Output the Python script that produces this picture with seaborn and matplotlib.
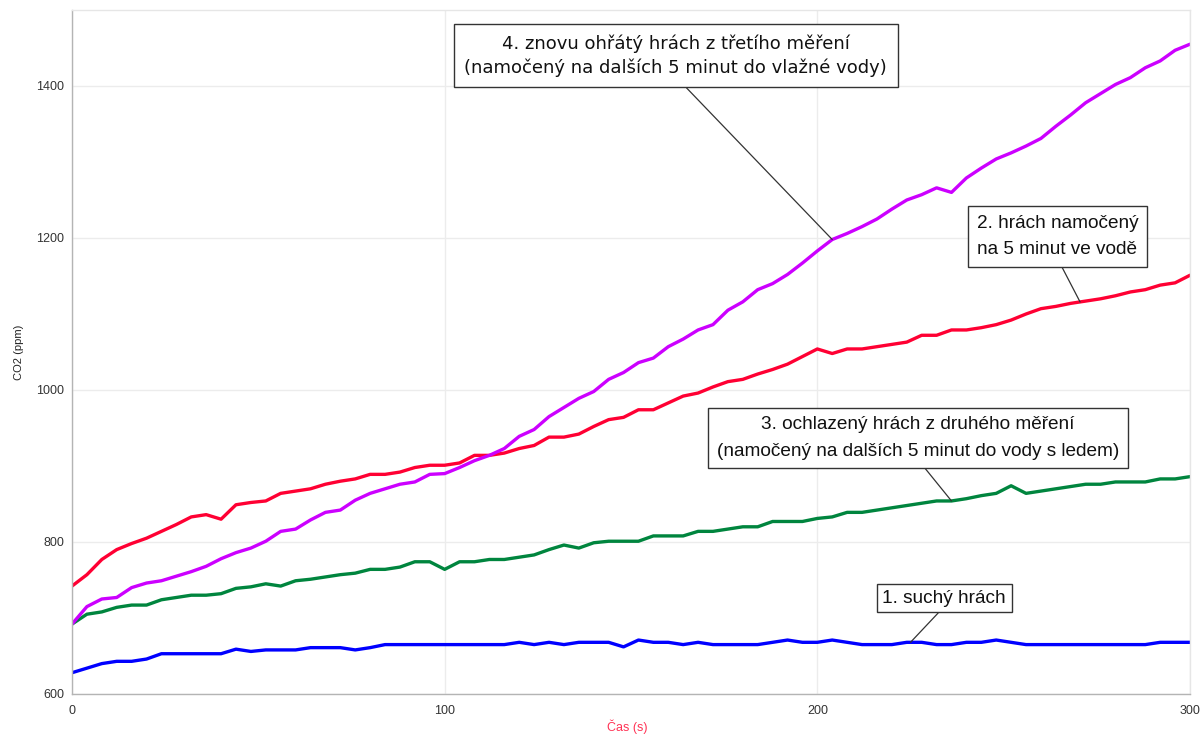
import numpy as np
import pandas as pd
import seaborn as sns
import matplotlib.pyplot as plt
from matplotlib.ticker import MultipleLocator

# ---------------- data ----------------
time_s = [0, 4, 8, 12, 16, 20, 24, 28, 32, 36, 40, 44, 48, 52, 56, 60, 64, 68, 72, 76,
          80, 84, 88, 92, 96, 100, 104, 108, 112, 116, 120, 124, 128, 132, 136, 140,
          144, 148, 152, 156, 160, 164, 168, 172, 176, 180, 184, 188, 192, 196, 200,
          204, 208, 212, 216, 220, 224, 228, 232, 236, 240, 244, 248, 252, 256, 260,
          264, 268, 272, 276, 280, 284, 288, 292, 296, 300]

s1_dry = [628, 634, 640, 643, 643, 646, 653, 653, 653, 653, 653, 659, 656, 658, 658,
          658, 661, 661, 661, 658, 661, 665, 665, 665, 665,
          665, 665, 665, 665, 665, 668, 665, 668, 665, 668, 668, 668, 662, 671, 668,
          668, 665, 668, 665, 665, 665, 665, 668, 671, 668,
          668, 671, 668, 665, 665, 665, 668, 668, 665, 665, 668, 668, 671, 668, 665,
          665, 665, 665, 665, 665, 665, 665, 665, 668, 668, 668]

s2_soaked = [742, 757, 777, 790, 798, 805, 814, 823, 833, 836, 830, 849, 852, 854, 864,
             867, 870, 876, 880, 883, 889, 889, 892, 898, 901,
             901, 904, 914, 914, 917, 923, 927, 938, 938, 942, 952, 961, 964, 974, 974,
             983, 992, 996, 1004, 1011, 1014, 1021, 1027, 1034, 1044, 1054, 1048,
             1054, 1054, 1057, 1060, 1063, 1072, 1072, 1079, 1079, 1082, 1086, 1092,
             1100, 1107, 1110, 1114, 1117, 1120, 1124, 1129, 1132, 1138, 1141, 1151]

s3_cooled = [692, 705, 708, 714, 717, 717, 724, 727, 730, 730, 732, 739, 741, 745, 742,
             749, 751, 754, 757, 759, 764, 764, 767, 774, 774,
             764, 774, 774, 777, 777, 780, 783, 790, 796, 792, 799, 801, 801, 801, 808,
             808, 808, 814, 814, 817, 820, 820, 827, 827, 827,
             831, 833, 839, 839, 842, 845, 848, 851, 854, 854, 857, 861, 864, 874, 864,
             867, 870, 873, 876, 876, 879, 879, 879, 883, 883, 886]

s4_reheated = [692, 715, 725, 727, 740, 746, 749, 755, 761, 768, 778, 786, 792, 801, 814,
               817, 829, 839, 842, 855, 864, 870, 876, 879, 889,
               890, 898, 907, 914, 923, 939, 948, 965, 977, 989, 998, 1014, 1023, 1036,
               1042, 1057, 1067, 1079, 1086, 1105, 1116, 1132, 1140, 1152, 1167, 1183,
               1198, 1206, 1215, 1225, 1238, 1250, 1257, 1266, 1260, 1279, 1292, 1304,
               1312, 1321, 1331, 1347, 1362, 1378, 1390, 1402, 1411, 1424, 1433, 1447,
               1455]

series_names = ["1. suchý hrách",
                "2. hrách namočený\nna 5 minut ve vodě",
                "3. ochlazený hrách z druhého měření\n(namočený na dalších 5 minut do vody s ledem)",
                "4. znovu ohřátý hrách z třetího měření\n(namočený na dalších 5 minut do vlažné vody)"]
series_values = [s1_dry, s2_soaked, s3_cooled, s4_reheated]
series_colors = ["#0000ff", "#ff0033", "#00853e", "#cc00ff"]

x_label = "Čas (s)"
y_label = "CO2 (ppm)"

# ---------------- build frame ----------------
frames = []
for name, vals in zip(series_names, series_values):
    frames.append(pd.DataFrame({"t": time_s, "co2": vals, "series": name}))
df = pd.concat(frames, ignore_index=True)

# ---------------- style ----------------
sns.set_style("white")
plt.rcParams["font.family"] = ["Liberation Sans", "DejaVu Sans"]

fig = plt.figure(figsize=(12.02, 7.36), dpi=100)
ax = fig.add_axes([72 / 1202, 42 / 736, 1118 / 1202, 684 / 736])

sns.lineplot(data=df, x="t", y="co2", hue="series", hue_order=series_names,
             palette=series_colors, linewidth=2.4, ax=ax, legend=False,
             estimator=None, sort=False)

ax.set_xlim(0, 300)
ax.set_ylim(600, 1500)
ax.xaxis.set_major_locator(MultipleLocator(100))
ax.xaxis.set_minor_locator(MultipleLocator(20))
ax.yaxis.set_major_locator(MultipleLocator(200))
ax.yaxis.set_minor_locator(MultipleLocator(100))
ax.grid(True, which="major", color="#ececec", linewidth=1.0)
ax.set_axisbelow(True)

for side in ["left", "bottom"]:
    ax.spines[side].set_color("#b4b4b4")
    ax.spines[side].set_linewidth(1.0)
for side in ["top", "right"]:
    ax.spines[side].set_color("#e6e6e6")
    ax.spines[side].set_linewidth(1.0)

ax.tick_params(axis="both", which="major", direction="out", width=0.8,
               color="#b4b4b4", labelsize=9, labelcolor="#333333")
ax.tick_params(axis="y", which="major", length=5, pad=0.5)
ax.tick_params(axis="x", which="major", length=3, pad=5)
ax.tick_params(axis="both", which="minor", direction="out", length=3, width=0.8,
               color="#b4b4b4")

ax.set_xlabel(x_label, color="#ff3355", fontsize=9)
ax.set_ylabel(y_label, color="#222222", fontsize=8)
ax.xaxis.set_label_coords(0.497, -0.037)
ax.yaxis.set_label_coords(-0.043, 0.5)

# ---------------- annotations ----------------
# (series index, text centre in data coords, pointed time, font, size, pad, linespacing)
ann_layout = [
    (0, (234, 726), 225, "Liberation Sans", 13.7, 0.3, 1.2),
    (1, (264.4, 1202), 270.5, "Liberation Sans", 13.7, 0.45, 1.72),
    (2, (227, 937), 236, "Liberation Sans", 13.7, 0.45, 1.72),
    (3, (162, 1440), 204, "DejaVu Sans", 13, 0.6, 1.35),
]
for si, txy, t_ptr, fam, fs, pad, ls in ann_layout:
    y_ptr = float(np.interp(t_ptr, time_s, series_values[si]))
    ax.annotate(series_names[si],
                xy=(t_ptr, y_ptr), xycoords="data",
                xytext=txy, textcoords="data",
                ha="center", va="center", fontsize=fs, family=fam,
                color="#111111", linespacing=ls,
                bbox=dict(boxstyle=f"square,pad={pad}", fc="white",
                          ec="#333333", lw=1.0),
                arrowprops=dict(arrowstyle="-", color="#333333", lw=0.9,
                                shrinkA=0, shrinkB=0, relpos=(0.5, 0.0)),
                zorder=5)

fig.savefig("out.png", dpi=100, facecolor="white")
